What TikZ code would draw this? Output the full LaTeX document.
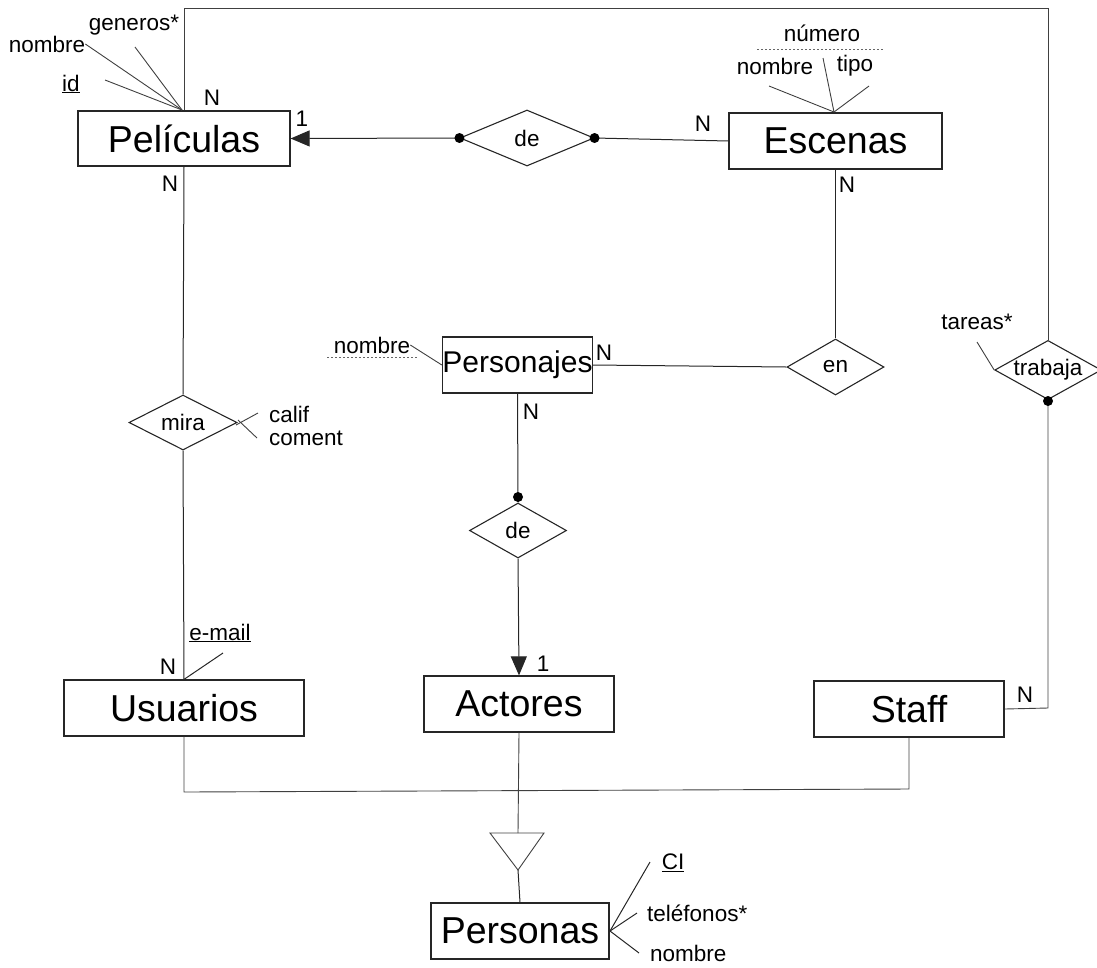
\documentclass[tikz,border=0pt]{standalone}
\usepackage{fontspec}
\setmainfont{Liberation Sans}
\usetikzlibrary{shapes.geometric,arrows.meta}
\newcommand\entfont{\fontsize{37.5}{40}\selectfont}
\newcommand\midfont{\fontsize{30}{32}\selectfont}
\newcommand\smfont{\fontsize{22.5}{24}\selectfont}
\tikzset{
  entity/.style={draw=black!85, line width=1.2pt, rectangle, inner sep=0pt, font=\entfont},
  relation/.style={draw=black!85, line width=1.1pt, diamond, aspect=1.8, inner sep=0pt, font=\smfont},
  lbl/.style={inner sep=0pt, font=\smfont},
  conn/.style={draw=black!85, line width=1pt},
  attl/.style={draw=black!75, line width=0.9pt},
  partial/.style={draw=black!60, line width=0.8pt, dash pattern=on 2pt off 2pt},
  tip/.style={-{Triangle[length=19pt,width=16pt]}},
}
\begin{document}
\begin{tikzpicture}[x=1pt,y=-1pt]
\useasboundingbox (0,0) rectangle (1097,967);

% entities
\node[entity, minimum width=212pt, minimum height=55pt] (pel) at (184,138.5) {Películas};
\node[entity, minimum width=213pt, minimum height=56pt] (esc) at (835.5,141) {Escenas};
\node[entity, minimum width=147pt, minimum height=56pt, font=\midfont] (per) at (517.5,365) {Personajes};
\node[entity, minimum width=240pt, minimum height=56pt] (usu) at (184,708) {Usuarios};
\node[entity, minimum width=190pt, minimum height=56pt] (act) at (519,704) {Actores};
\node[entity, minimum width=190pt, minimum height=56pt] (sta) at (909,709) {Staff};
\node[entity, minimum width=178pt, minimum height=56pt] (pers) at (520,931) {Personas};

% relations
\node[relation, minimum width=134pt, minimum height=56pt] (de1) at (527,138) {de};
\node[relation, minimum width=97pt, minimum height=56pt] (en) at (835.5,367) {en};
\node[relation, minimum width=108pt, minimum height=55pt] (mira) at (183,422.5) {mira};
\node[relation, minimum width=97pt, minimum height=55pt] (de2) at (518,530.5) {de};
\node[relation, minimum width=101pt, minimum height=55pt] (trab) at (1048,370) {trabaja};

% ISA triangle
\coordinate (triL) at (490,833);
\coordinate (triR) at (544,833);
\coordinate (triT) at (518,833);
\coordinate (triA) at (518,870);
\draw[attl] (triL) -- (triR) -- (triA) -- cycle;

% connectors
\coordinate (tl) at (184,8);
\coordinate (tr) at (1048,8);
\draw[attl] (pel.north) -- (tl) -- (tr) -- (trab.north);
\draw[conn, tip] (de1.west) -- (pel.east);
\fill[black] (de1.west) circle (5pt);
\draw[conn] (de1.east) -- (esc.west);
\fill[black] (de1.east) circle (5pt);
\draw[conn] (esc.south) -- (en.north);
\draw[conn] (per.east) -- (en.west);
\coordinate (d2dot) at (518,497);
\draw[conn] (per.south) -- (d2dot) -- (de2.north);
\fill[black] (d2dot) circle (5pt);
\draw[conn, tip] (de2.south) -- (act.north);
\draw[conn] (pel.south) -- (mira.north);
\draw[conn] (mira.south) -- (usu.north);
\coordinate (tdot) at (1048,401);
\coordinate (stc) at (1048,708);
\draw[attl] (trab.south) -- (tdot) -- (stc) -- (sta.east);
\fill[black] (tdot) circle (5pt);
\coordinate (bl) at (184,792);
\coordinate (br) at (909,789);
\draw[attl] (usu.south) -- (bl) -- (br) -- (sta.south);
\draw[attl] (act.south) -- (triT);
\draw[conn] (triA) -- (pers.north);

% cardinalities
\node[lbl] (c1) at (212,98) {N};
\node[lbl] (c2) at (302,119) {1};
\node[lbl] (c3) at (170,184) {N};
\node[lbl] (c4) at (703,124) {N};
\node[lbl] (c5) at (847,185) {N};
\node[lbl] (c6) at (604,353) {N};
\node[lbl] (c7) at (531,412) {N};
\node[lbl] (c8) at (543,664) {1};
\node[lbl] (c9) at (168,667) {N};
\node[lbl] (c10) at (1025,695) {N};

% attributes of Películas
\coordinate (pa) at (182,110);
\node[lbl] (gen) at (134,25) {generos*};
\node[lbl] (pnom) at (47,44) {nombre};
\node[lbl] (pid) at (71,84) {\underline{id}};
\draw[attl] (135,47) -- (pa);
\draw[attl] (pnom.east) -- (pa);
\draw[attl] (105,80) -- (pa);

% attributes of Escenas
\coordinate (ea) at (834,112);
\node[lbl] (enum) at (822,33) {número};
\draw[partial] (757,49) -- (884,49);
\node[lbl] (enom) at (775,66) {nombre};
\node[lbl] (etip) at (855,66) {tipo};
\draw[attl] (769,86) -- (ea);
\draw[attl] (823,58) -- (ea);
\draw[attl] (869,86) -- (ea);

% attribute of Personajes
\node[lbl] (pjn) at (372,345) {nombre};
\draw[partial] (327,357) -- (418,357);
\draw[attl] (pjn.east) -- (per.west);

% attributes of mira
\node[lbl, anchor=west] (cal) at (269,414) {calif};
\node[lbl, anchor=west] (com) at (269,438) {coment};
\draw[attl] (258,413) -- (236,425);
\draw[attl] (238,420) -- (257,438);

% attribute of Usuarios
\node[lbl] (mail) at (220,633) {\underline{e-mail}};
\draw[conn] (223,653) -- (usu.north);

% attribute of trabaja
\node[lbl] (tar) at (977,322) {tareas*};
\draw[attl] (977,342) -- (trab.west);

% attributes of Personas
\coordinate (psa) at (610,931);
\node[lbl] (ci) at (673,863) {\underline{CI}};
\node[lbl, anchor=west] (tel) at (647,913) {teléfonos*};
\node[lbl, anchor=west] (pnm) at (650,953) {nombre};
\draw[conn] (650,862) -- (psa);
\draw[conn] (637,913) -- (psa);
\draw[conn] (639,953) -- (psa);
\end{tikzpicture}
\end{document}
